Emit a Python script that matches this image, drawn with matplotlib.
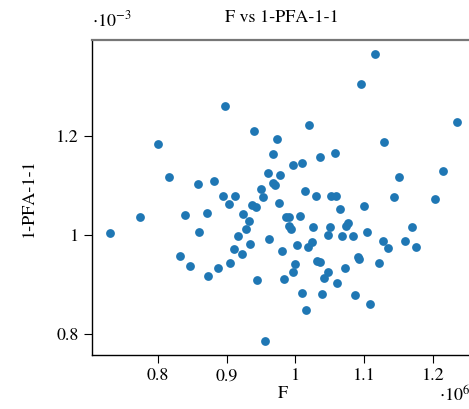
import matplotlib
matplotlib.use("Agg")
import matplotlib.pyplot as plt

plt.rcParams['font.family'] = ['TeX Gyre Termes', 'Liberation Serif', 'DejaVu Serif']
plt.rcParams['mathtext.fontset'] = 'stix'

# F in units of 10^6, 1-PFA-1-1 in units of 10^-3
F = [0.898, 0.940, 0.973, 0.800, 0.967, 0.816, 0.858, 0.882, 0.960, 0.977,
     0.967, 0.970, 0.950, 0.953, 0.894, 0.912, 0.903, 0.937, 0.942, 0.976,
     0.871, 0.924, 0.730, 0.774, 0.839, 0.860, 0.932, 0.928, 0.917, 0.961,
     0.934, 0.911, 0.922, 0.832, 0.846, 0.905, 0.887, 0.873, 0.944, 0.956,
     0.981, 0.983, 1.014, 1.030, 1.052, 1.059, 1.144, 1.203, 1.065, 1.100,
     0.986, 0.990, 1.006, 0.991, 0.994, 1.026, 1.050, 1.077, 1.074, 1.169,
     1.047, 1.068, 1.084, 1.104, 1.003, 1.019, 1.024, 1.127, 1.135, 1.160,
     1.176, 1.032, 1.036, 1.091, 1.092, 1.121, 1.000, 0.997, 1.047, 1.041,
     1.072, 1.061, 1.010, 1.039, 1.087, 1.108, 1.015, 1.116, 1.096, 1.235,
     1.020, 1.129, 1.036, 1.057, 0.996, 1.009, 1.151, 1.215]
PFA = [1.261, 1.210, 1.195, 1.185, 1.164, 1.118, 1.103, 1.110, 1.125, 1.121,
       1.105, 1.102, 1.093, 1.077, 1.079, 1.079, 1.062, 1.061, 1.057, 1.065,
       1.044, 1.042, 1.005, 1.037, 1.040, 1.007, 1.029, 1.012, 0.999, 0.993,
       0.982, 0.972, 0.961, 0.958, 0.938, 0.944, 0.933, 0.918, 0.910, 0.785,
       0.968, 0.911, 1.089, 1.079, 1.079, 1.078, 1.077, 1.072, 1.053, 1.059,
       1.036, 1.036, 1.038, 1.018, 1.013, 1.017, 1.017, 1.024, 1.018, 1.016,
       1.001, 0.999, 0.999, 1.006, 0.979, 0.976, 0.986, 0.988, 0.973, 0.988,
       0.976, 0.947, 0.946, 0.955, 0.952, 0.943, 0.941, 0.926, 0.925, 0.913,
       0.933, 0.904, 0.883, 0.881, 0.879, 0.861, 0.849, 1.365, 1.306, 1.229,
       1.222, 1.189, 1.158, 1.165, 1.142, 1.145, 1.117, 1.129]

xticks = [0.8, 0.9, 1.0, 1.1, 1.2]
xticklabels = ['0.8', '0.9', '1', '1.1', '1.2']
yticks = [0.8, 1.0, 1.2]
yticklabels = ['0.8', '1', '1.2']

fig = plt.figure(figsize=(4.69, 4.09), dpi=100)
ax = fig.add_axes([0.196, 0.132, 0.812, 0.770])

ax.scatter(F, PFA, s=40, color='#1f77b4', linewidths=0, zorder=3)

ax.set_xlim(0.704, 1.258)
ax.set_ylim(0.7576, 1.394)
ax.set_xticks(xticks)
ax.set_xticklabels(xticklabels)
ax.set_yticks(yticks)
ax.set_yticklabels(yticklabels)
ax.tick_params(direction='out', length=5.5, width=0.8, labelsize=13, pad=4)

ax.spines['right'].set_visible(False)
ax.spines['top'].set_color('#777777')
ax.spines['top'].set_linewidth(1.6)
ax.spines['left'].set_linewidth(1.0)
ax.spines['bottom'].set_linewidth(1.0)

ax.set_title('F vs 1-PFA-1-1', fontsize=13, pad=13)
ax.set_xlabel('F', fontsize=13, labelpad=1)
ax.set_ylabel('1-PFA-1-1', fontsize=13, labelpad=14)

fig.text(0.196, 0.925, r'$\cdot 10^{-3}$', fontsize=13, ha='left', va='bottom')
fig.text(0.935, 0.008, r'$\cdot 10^{6}$', fontsize=13, ha='left', va='bottom')

fig.savefig('out.png', dpi=100)
